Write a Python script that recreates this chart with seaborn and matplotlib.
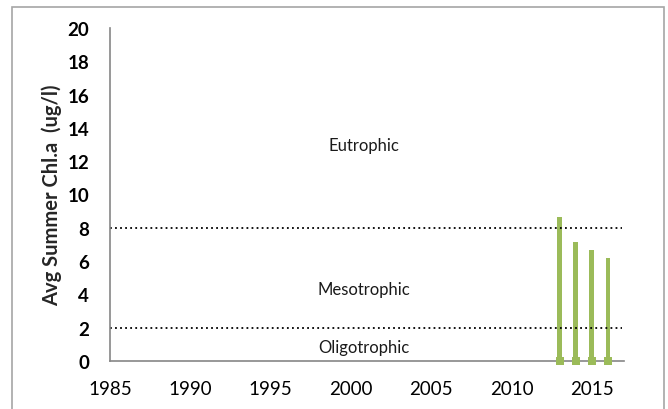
import matplotlib
matplotlib.use('Agg')
import matplotlib.pyplot as plt
import matplotlib.patches as patches
import seaborn as sns
import pandas as pd

# dados
anos = [2013, 2014, 2015, 2016]
chla = [8.64, 7.14, 6.66, 6.18]
limites = [8, 2]
zonas = ['Eutrophic', 'Mesotrophic', 'Oligotrophic']
zonas_y = [13.0, 4.3, 0.85]

df = pd.DataFrame({'ano': anos, 'chla': chla})

sns.set_style('white')
plt.rcParams['font.family'] = ['Lato', 'DejaVu Sans']

fig = plt.figure(figsize=(6.68, 4.10), dpi=100)
ax = fig.add_axes([110/668, 1 - 362/410, (624 - 110)/668, (362 - 29)/410])

# moldura da area do grafico
fig.patches.append(patches.Rectangle((12/668, -0.1), (664 - 12)/668, 1.1 - 8/410,
                                     transform=fig.transFigure, fill=False,
                                     edgecolor='#a6a6a6', linewidth=1.2))

verde = '#9bbb59'
sns.barplot(data=df, x='ano', y='chla', native_scale=True, width=0.3,
            color=verde, saturation=1, linewidth=0, ax=ax)
sns.scatterplot(x=anos, y=[0]*len(anos), marker='s', s=32, color=verde,
                edgecolor=verde, linewidth=0, ax=ax, zorder=4, clip_on=False)

for lim in limites:
    ax.axhline(lim, xmin=0, xmax=0.996, color='black', linestyle=(0, (1, 1.8)),
               linewidth=1.3, zorder=1)

for nome, yy in zip(zonas, zonas_y):
    ax.text(2000.8, yy, nome, ha='center', va='center', fontsize=12, color='#1a1a1a')

ax.set_xlim(1985, 2017)
ax.set_ylim(0, 20)
ax.set_xticks(range(1985, 2016, 5))
ax.set_yticks(range(0, 21, 2))
ax.tick_params(axis='both', direction='out', length=5, color='#868686', width=1,
               labelsize=13.5, labelcolor='black')
ax.tick_params(axis='y', pad=10)
ax.tick_params(axis='x', pad=9)
for lab in ax.get_yticklabels():
    lab.set_fontweight('bold')
ax.set_xlabel('')
ax.set_ylabel('Avg Summer Chl.a  (ug/l)', fontsize=14.5, fontweight='bold', labelpad=4)

for s in ['top', 'right']:
    ax.spines[s].set_visible(False)
for s in ['left', 'bottom']:
    ax.spines[s].set_color('#868686')
    ax.spines[s].set_linewidth(1.2)

fig.savefig('out.png', dpi=100)
